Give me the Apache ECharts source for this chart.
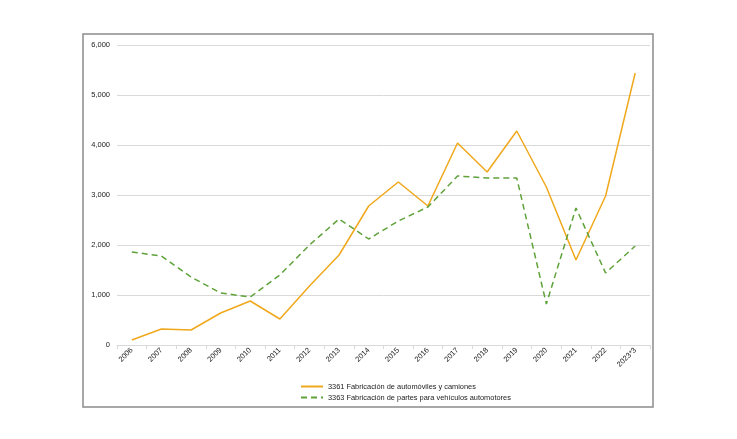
<!DOCTYPE html>
<html>
<head>
<meta charset="utf-8">
<script src="https://cdn.jsdelivr.net/npm/echarts@6/dist/echarts.min.js"></script>
<style>
html,body{margin:0;padding:0;background:#fff;}
#chart{width:737px;height:439px;}
</style>
</head>
<body>
<div id="chart"></div>
<script>
const categories = ['2006','2007','2008','2009','2010','2011','2012','2013','2014','2015','2016','2017','2018','2019','2020','2021','2022','2023*3'];
const autos = [100,320,300,640,880,520,1180,1800,2780,3260,2780,4040,3460,4280,3160,1700,2980,5440];
const partes = [1860,1780,1360,1040,960,1400,2000,2520,2120,2480,2760,3380,3340,3340,820,2740,1440,1980];
const seriesNames = ['3361 Fabricación de automóviles y camiones','3363 Fabricación de partes para vehículos automotores'];
const yTicks = {min:0, max:6000, interval:1000};

const chart = echarts.init(document.getElementById('chart'));
const font = 'Liberation Sans, Arial, sans-serif';
chart.setOption({
  animation:false,
  backgroundColor:'#fff',
  graphic:[{type:'rect', shape:{x:83,y:34,width:570,height:373}, style:{fill:'none', stroke:'#8c8c8c', lineWidth:1.5}, z:-1}],
  grid:{left:117, right:87, top:45, bottom:94},
  legend:{
    orient:'vertical', left:295, top:378, itemWidth:22, itemHeight:8, itemGap:4,
    itemStyle:{opacity:0},
    textStyle:{fontFamily:font, fontSize:7.4, color:'#1a1a1a'},
    data:seriesNames
  },
  xAxis:{
    type:'category', data:categories, boundaryGap:true,
    axisLine:{lineStyle:{color:'#d9d9d9', width:1}},
    axisTick:{show:true, length:4, lineStyle:{color:'#d9d9d9'}},
    axisLabel:{rotate:45, fontFamily:font, fontSize:7.5, color:'#1a1a1a', margin:4, interval:0}
  },
  yAxis:{
    type:'value', min:yTicks.min, max:yTicks.max, interval:yTicks.interval,
    axisLine:{show:false}, axisTick:{show:false},
    splitLine:{lineStyle:{color:'#d9d9d9', width:1}},
    axisLabel:{fontFamily:font, fontSize:7.5, color:'#1a1a1a', margin:7,
      formatter:v=>v.toLocaleString('en-US')}
  },
  series:[
    {name:seriesNames[0], type:'line', data:autos, symbol:'none',
     lineStyle:{color:'#F0A81C', width:1.5}, itemStyle:{color:'#F0A81C'}},
    {name:seriesNames[1], type:'line', data:partes, symbol:'none',
     lineStyle:{color:'#5FA23A', width:1.5, type:[6,4]}, itemStyle:{color:'#5FA23A'}}
  ]
});
</script>
</body>
</html>
